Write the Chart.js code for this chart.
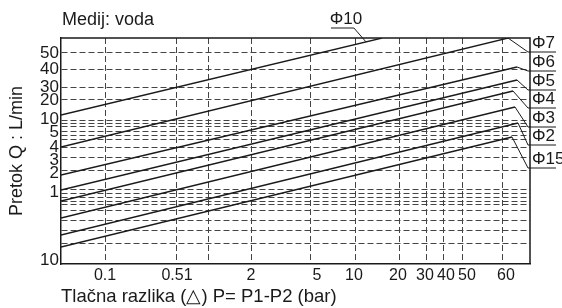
<!DOCTYPE html>
<html lang="hr">

<head>
  <meta charset="UTF-8" />
  <title>Pretok - tlačna razlika</title>
  <style>
    html, body { margin: 0; padding: 0; background: #fff; }
    #wrap { width: 562px; height: 308px; }
  </style>
</head>

<body>
  <div id="wrap"><canvas id="flowChart" width="562" height="308"></canvas></div>

  <script src="https://cdn.jsdelivr.net/npm/chart.js"></script>
  <script>
    // Krivulje po promjeru (jedinice dijagrama, očitano sa slike)
    const lineNames = ['Φ10', 'Φ7', 'Φ6', 'Φ5', 'Φ4', 'Φ3', 'Φ2', 'Φ15'];
    const startX = [0, 0, 0, 0, 0, 0, 0, 0];
    const startY = [149, 117, 89, 74, 63, 46, 29, 17];
    const endX = [321, 447, 456, 456, 452, 454, 457, 451];
    const endY = [226, 226, 197, 184, 173, 157, 141, 127];

    // Mreža i oznake osi (os nije ni linearna ni logaritamska)
    const xGrid = [44, 115, 147, 190, 249, 294, 338, 365, 382, 401, 441];
    const xLabelPos = [44, 116, 190, 256, 293, 337, 364, 385, 406, 445];
    const xLabels = ['0.1', '0.51', '2', '5', '10', '20', '30', '40', '50', '60'];
    const yGrid = [212, 195, 177, 165, 144, 141, 137, 133, 129, 125, 117, 107, 94, 75, 71, 67, 63, 59, 54, 44, 34, 21];
    const yLabelPos = [211, 195, 177, 164, 145, 132, 117, 104, 91, 72, 4];
    const yLabels = ['50', '40', '30', '20', '10', '5', '4', '3', '2', '1', '10'];

    const textColor = '#1a1a1a';
    const fontFamily = '"Liberation Sans", Arial, sans-serif';

    // Spoji pozicije mreže i oznaka u jedan niz tickova
    function mergeTicks(grid, labelPos) {
      return [...new Set([...grid, ...labelPos])].sort((a, b) => a - b);
    }
    const xTicks = mergeTicks(xGrid, xLabelPos);
    const yTicks = mergeTicks(yGrid, yLabelPos);
    const xLabelMap = new Map(xLabelPos.map((p, i) => [p, xLabels[i]]));
    const yLabelMap = new Map(yLabelPos.map((p, i) => [p, yLabels[i]]));
    const xGridSet = new Set(xGrid);
    const yGridSet = new Set(yGrid);

    const datasets = lineNames.map((name, i) => ({
      label: name,
      data: [{ x: startX[i], y: startY[i] }, { x: endX[i], y: endY[i] }],
      borderColor: textColor,
      borderWidth: 1.3,
      pointRadius: 0,
      fill: false,
      tension: 0
    }));

    // Okvir, natpis medija i oznake promjera s vodilicama
    const labelsPlugin = {
      id: 'oznake',
      afterDraw(chart) {
        const { ctx, chartArea: a } = chart;
        ctx.save();
        ctx.strokeStyle = textColor;
        ctx.fillStyle = textColor;

        // gornji i desni rub
        ctx.lineWidth = 1.5;
        ctx.beginPath();
        ctx.moveTo(a.left, a.top);
        ctx.lineTo(a.right, a.top);
        ctx.lineTo(a.right, a.bottom);
        ctx.stroke();

        ctx.font = '18px ' + fontFamily;
        ctx.textAlign = 'left';
        ctx.textBaseline = 'alphabetic';
        ctx.fillText('Medij: voda', a.left + 1, a.top - 13);

        // Φ10 iznad dijagrama
        ctx.font = '17px ' + fontFamily;
        ctx.lineWidth = 1;
        const d0 = chart.getDatasetMeta(0).data;
        const t = 0.95;
        const tx = d0[0].x + (d0[1].x - d0[0].x) * t;
        const ty = d0[0].y + (d0[1].y - d0[0].y) * t;
        ctx.beginPath();
        ctx.moveTo(tx - 35, a.top - 10);
        ctx.lineTo(tx - 12, a.top - 10);
        ctx.lineTo(tx, ty);
        ctx.stroke();
        ctx.textAlign = 'center';
        ctx.fillText(lineNames[0], tx - 20, a.top - 14);

        // ostali promjeri desno
        const slot = [14, 33, 52, 70, 89, 107, 130];
        ctx.textAlign = 'left';
        for (let i = 1; i < lineNames.length; i++) {
          const end = chart.getDatasetMeta(i).data[1];
          const sepY = a.top + slot[i - 1];
          ctx.beginPath();
          ctx.moveTo(end.x, end.y);
          ctx.lineTo(a.right - 2, sepY);
          ctx.lineTo(a.right + 26, sepY);
          ctx.stroke();
          ctx.fillText(lineNames[i], a.right + 2, sepY - 4);
        }
        ctx.restore();
      }
    };

    new Chart(document.getElementById('flowChart'), {
      type: 'line',
      data: { datasets },
      options: {
        responsive: false,
        animation: false,
        layout: { padding: { top: 38, right: 32, left: 0, bottom: 0 } },
        plugins: {
          legend: { display: false },
          tooltip: { enabled: false }
        },
        scales: {
          x: {
            type: 'linear',
            min: 0,
            max: 469,
            afterBuildTicks: s => { s.ticks = xTicks.map(v => ({ value: v })); },
            afterFit: s => { s.height = 44; },
            ticks: {
              autoSkip: false,
              maxRotation: 0,
              padding: 2,
              color: textColor,
              font: { family: fontFamily, size: 16 },
              callback: v => xLabelMap.get(v) ?? ''
            },
            grid: {
              color: c => (c.tick && xGridSet.has(c.tick.value)) ? '#444' : 'rgba(0,0,0,0)',
              lineWidth: 1,
              drawTicks: false
            },
            border: { display: true, color: textColor, width: 1.5, dash: [6, 3] },
            title: {
              display: true,
              text: 'Tlačna razlika (△) P= P1-P2 (bar)',
              align: 'start',
              color: textColor,
              font: { family: fontFamily, size: 18.5 },
              padding: { top: 0, bottom: 0 }
            }
          },
          y: {
            type: 'linear',
            min: 0,
            max: 226,
            afterBuildTicks: s => { s.ticks = yTicks.map(v => ({ value: v })); },
            afterFit: s => { s.width = 61; },
            ticks: {
              autoSkip: false,
              padding: 2,
              color: textColor,
              font: { family: fontFamily, size: 17 },
              callback: v => yLabelMap.get(v) ?? ''
            },
            grid: {
              color: c => (c.tick && yGridSet.has(c.tick.value)) ? '#444' : 'rgba(0,0,0,0)',
              lineWidth: 1,
              drawTicks: false
            },
            border: { display: true, color: textColor, width: 1.5, dash: [6, 3] },
            title: {
              display: true,
              text: 'Pretok Q : L/min',
              color: textColor,
              font: { family: fontFamily, size: 18 },
              padding: { top: 6, bottom: 0 }
            }
          }
        }
      },
      plugins: [labelsPlugin]
    });
  </script>
</body>

</html>
